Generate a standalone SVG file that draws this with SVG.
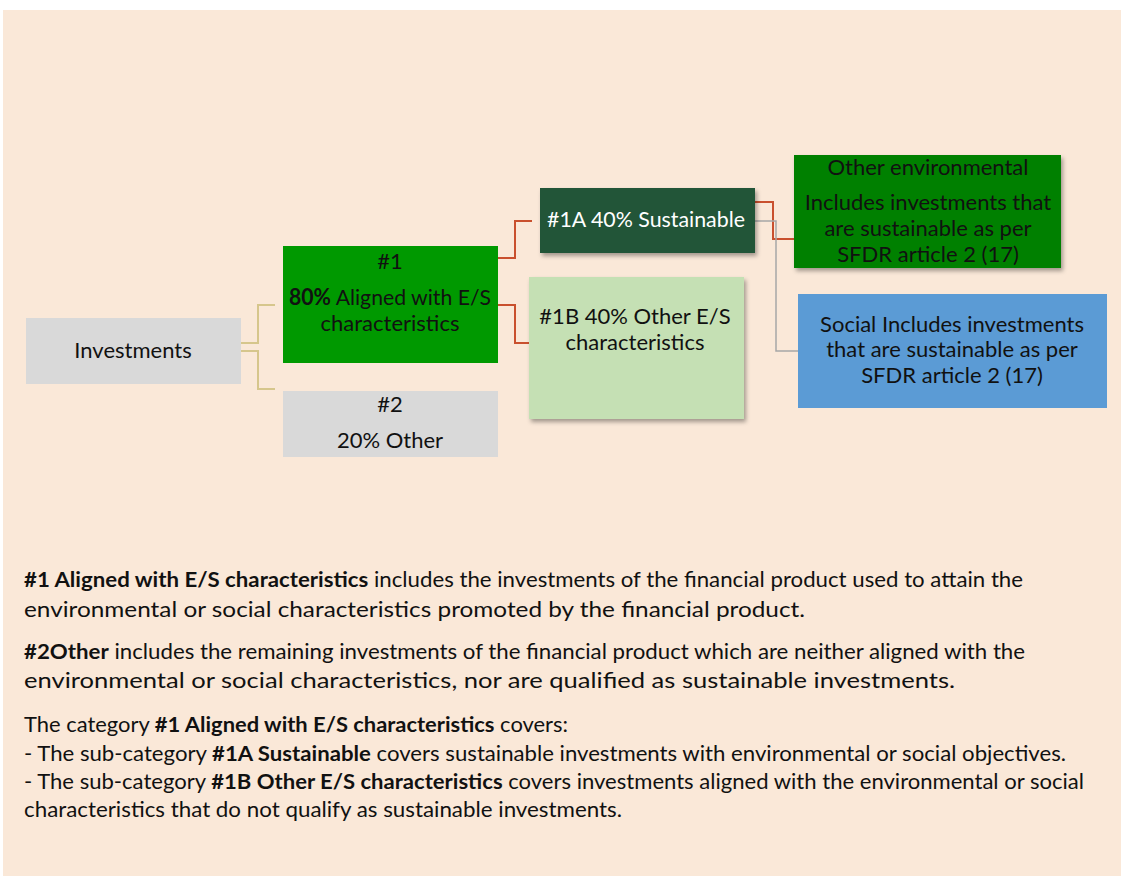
<svg xmlns="http://www.w3.org/2000/svg" width="1121" height="876" viewBox="0 0 1121 876">
<style>
text{font-family:Lato,"Open Sans","Liberation Sans",sans-serif;fill:#111}
.b{font-size:22px;text-anchor:middle}
.w{fill:#fff}
.p{font-size:20.8px}
.bd{font-weight:bold}
.tan{fill:none;stroke:#D6C68C;stroke-width:2}
.red{fill:none;stroke:#C9502E;stroke-width:2}
.gry{fill:none;stroke:#A6A6A6;stroke-width:1.5}
</style>
<defs>
<filter id="sh" x="-10%" y="-10%" width="130%" height="140%">
<feDropShadow dx="2" dy="3" stdDeviation="2" flood-color="#000" flood-opacity="0.35"/>
</filter>
</defs>
<rect width="1121" height="876" fill="#fff"/>
<rect x="3" y="10" width="1118" height="866" fill="#FAE8D8"/>
<g id="connectors">
<path class="tan" d="M241,343 H258 V305 H275"/>
<path class="tan" d="M241,351 H258 V389 H275"/>
<path class="red" d="M498,258 H515 V221 H532"/>
<path class="red" d="M498,305 H515 V343 H529"/>
<path class="red" d="M755,202 H773 V239 H794"/>
<path class="gry" d="M755,221 H776 V351 H798"/>
</g>
<g id="investments">
<rect x="26" y="318" width="215" height="66" fill="#D9D9D9"/>
<text class="b" x="133" y="358">Investments</text>
</g>
<g id="n1">
<rect x="283" y="246" width="215" height="117" fill="#009900"/>
<text class="b" x="390" y="269">#1</text>
<text class="b" x="390" y="305" textLength="202" lengthAdjust="spacingAndGlyphs"><tspan class="bd">80%</tspan> Aligned with E/S</text>
<text class="b" x="390" y="331">characteristics</text>
</g>
<g id="n2">
<rect x="283" y="391" width="215" height="66" fill="#D9D9D9"/>
<text class="b" x="390" y="412">#2</text>
<text class="b" x="390" y="448">20% Other</text>
</g>
<g id="n1a">
<rect x="540" y="188" width="215" height="65" fill="#245439" filter="url(#sh)"/>
<text class="b w" x="646" y="227" textLength="198" lengthAdjust="spacingAndGlyphs">#1A 40% Sustainable</text>
</g>
<g id="n1b">
<rect x="529" y="277" width="215" height="142" fill="#C5E0B4" filter="url(#sh)"/>
<text class="b" x="635" y="324">#1B 40% Other E/S</text>
<text class="b" x="635" y="350">characteristics</text>
</g>
<g id="other-env">
<rect x="794" y="155" width="267" height="113" fill="#008000" filter="url(#sh)"/>
<text class="b" x="928" y="175">Other environmental</text>
<text class="b" x="928" y="210">Includes investments that</text>
<text class="b" x="928" y="236">are sustainable as per</text>
<text class="b" x="928" y="262">SFDR article 2 (17)</text>
</g>
<g id="social">
<rect x="798" y="294" width="309" height="114" fill="#5B9BD5"/>
<text class="b" x="952" y="332">Social Includes investments</text>
<text class="b" x="952" y="357">that are sustainable as per</text>
<text class="b" x="952" y="383">SFDR article 2 (17)</text>
</g>
<g id="legend">
<text class="p" x="24" y="587" textLength="999" lengthAdjust="spacingAndGlyphs"><tspan class="bd">#1 Aligned with E/S characteristics</tspan> includes the investments of the financial product used to attain the</text>
<text class="p" x="24" y="617" textLength="781" lengthAdjust="spacingAndGlyphs">environmental or social characteristics promoted by the financial product.</text>
<text class="p" x="24" y="659" textLength="1001" lengthAdjust="spacingAndGlyphs"><tspan class="bd">#2Other</tspan> includes the remaining investments of the financial product which are neither aligned with the</text>
<text class="p" x="24" y="688" textLength="931" lengthAdjust="spacingAndGlyphs">environmental or social characteristics, nor are qualified as sustainable investments.</text>
<text class="p" x="24" y="732" textLength="544" lengthAdjust="spacingAndGlyphs">The category <tspan class="bd">#1 Aligned with E/S characteristics</tspan> covers:</text>
<text class="p" x="24" y="761" textLength="1042" lengthAdjust="spacingAndGlyphs">- The sub-category <tspan class="bd">#1A Sustainable</tspan> covers sustainable investments with environmental or social objectives.</text>
<text class="p" x="24" y="789" textLength="1060" lengthAdjust="spacingAndGlyphs">- The sub-category <tspan class="bd">#1B Other E/S characteristics</tspan> covers investments aligned with the environmental or social</text>
<text class="p" x="24" y="817" textLength="598" lengthAdjust="spacingAndGlyphs">characteristics that do not qualify as sustainable investments.</text>
</g>
</svg>
